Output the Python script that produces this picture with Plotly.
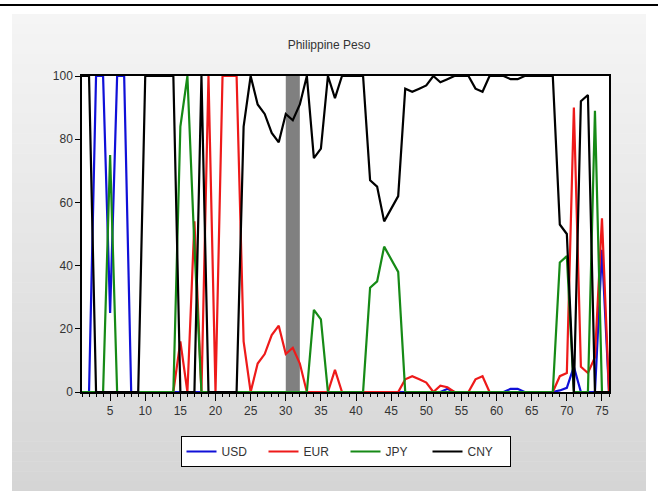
import plotly.graph_objects as go

# Observation index
obs = list(range(1, 77))

# Currency weights (%) per observation
usd = [0, 0, 100, 100, 25, 100, 100, 0, 0, 0,
       0, 0, 0, 0, 0, 0, 0, 0, 0, 0,
       0, 0, 0, 0, 0, 0, 0, 0, 0, 0,
       0, 0, 0, 0, 0, 0, 0, 0, 0, 0,
       0, 0, 0, 0, 0, 0, 0, 0, 0, 0,
       0, 0, 1, 0, 0, 0, 0, 0, 0, 0,
       0, 1, 1, 0, 0, 0, 0, 0, 0.5, 1.3,
       8, 0, 0, 0, 45, 0]

eur = [0, 0, 0, 0, 0, 0, 0, 0, 0, 0,
       0, 0, 0, 0, 16, 0, 54, 0, 100, 0,
       100, 100, 100, 16, 0, 9, 12, 18, 21, 12,
       14, 9, 0, 0, 0, 0, 7, 0, 0, 0,
       0, 0, 0, 0, 0, 0, 4, 5, 4, 3,
       0, 2, 1.5, 0, 0, 0, 4, 5, 0, 0,
       0, 0, 0, 0, 0, 0, 0, 0, 5, 6,
       90, 8, 6, 11, 55, 0]

jpy = [0, 0, 0, 0, 75, 0, 0, 0, 0, 0,
       0, 0, 0, 0, 84, 100, 46, 0, 0, 0,
       0, 0, 0, 0, 0, 0, 0, 0, 0, 0,
       0, 0, 0, 26, 23, 0, 0, 0, 0, 0,
       0, 33, 35, 46, 42, 38, 0, 0, 0, 0,
       0, 0, 0, 0, 0, 0, 0, 0, 0, 0,
       0, 0, 0, 0, 0, 0, 0, 0, 41, 43,
       0, 0, 0, 89, 0, 0]

cny = [100, 100, 0, 0, 0, 0, 0, 0, 0, 100,
       100, 100, 100, 100, 0, 0, 0, 100, 0, 0,
       0, 0, 0, 84, 100, 91, 88, 82, 79, 88,
       86, 91, 100, 74, 77, 100, 93, 100, 100, 100,
       100, 67, 65, 54, 58, 62, 96, 95, 96, 97,
       100, 98, 99, 100, 100, 100, 96, 95, 100, 100,
       100, 99, 99, 100, 100, 100, 100, 100, 53, 50,
       0, 92, 94, 0, 0, 0]

series = [("USD", usd, "#1010d8"),
          ("EUR", eur, "#ee1a1a"),
          ("JPY", jpy, "#168a16"),
          ("CNY", cny, "#000000")]

# Shaded period
band = (30, 32)

# Figure geometry in pixels
W, H = 658, 491
L, R, T, B = 82, 609, 76, 392


def px_x(p):
    return (p - L) / (R - L)


def px_y(p):
    return (B - p) / (B - T)


fig = go.Figure()
for name, vals, col in series:
    fig.add_trace(go.Scatter(x=obs, y=vals, mode="lines", name=name,
                             line=dict(color=col, width=2.2)))

shapes = []
# top rule across the page
shapes.append(dict(type="line", xref="paper", yref="paper",
                   x0=px_x(0), x1=px_x(W), y0=px_y(5), y1=px_y(5),
                   line=dict(color="black", width=2), layer="below"))
# grey panel with a vertical gradient
top, bot, left, right = 14, H, 12, 646
n = 48
for i in range(n):
    y0 = top + (bot - top) * i / n
    y1 = top + (bot - top) * (i + 1) / n
    g = int(round(245 - (245 - 213) * (i + 0.5) / n))
    shapes.append(dict(type="rect", xref="paper", yref="paper",
                       x0=px_x(left), x1=px_x(right),
                       y0=px_y(y0), y1=px_y(y1 + 0.5),
                       line=dict(width=0),
                       fillcolor=f"rgb({g},{g},{g})", layer="below"))
# white plotting area
shapes.append(dict(type="rect", xref="paper", yref="paper",
                   x0=0, x1=1, y0=0, y1=1, line=dict(width=0),
                   fillcolor="white", layer="below"))
# shaded band
shapes.append(dict(type="rect", xref="x", yref="paper",
                   x0=band[0], x1=band[1], y0=0, y1=1,
                   line=dict(width=0), fillcolor="#808080", layer="below"))

fig.update_layout(
    width=W, height=H,
    margin=dict(l=L, r=W - R, t=T, b=H - B),
    paper_bgcolor="white", plot_bgcolor="white",
    font=dict(family="Liberation Sans, Arial, sans-serif", size=12, color="#333333"),
    title=dict(text="Philippine Peso", x=0.5, xref="container", xanchor="center",
               y=1 - 45 / H, yref="container", yanchor="middle",
               font=dict(size=12, color="#333333")),
    showlegend=True,
    legend=dict(orientation="h", x=0.5, xanchor="center",
                y=px_y(436), yanchor="top",
                bgcolor="white", bordercolor="black", borderwidth=1,
                font=dict(size=12, color="#333333"),
                entrywidth=37, entrywidthmode="pixels",
                traceorder="normal"),
    shapes=shapes,
)

fig.update_xaxes(range=[1, 76], tickmode="linear", tick0=5, dtick=5,
                 ticks="outside", ticklen=7, tickcolor="black", tickwidth=1,
                 minor=dict(dtick=1, tick0=1, ticks="outside", ticklen=3,
                            tickcolor="black", tickwidth=1),
                 showline=True, linecolor="black", linewidth=1.5, mirror=True,
                 showgrid=False, zeroline=False)
fig.update_yaxes(range=[0, 100], tickmode="linear", tick0=0, dtick=20,
                 ticks="outside", ticklen=5, tickcolor="black", tickwidth=1,
                 showline=True, linecolor="black", linewidth=1.5, mirror=True,
                 showgrid=False, zeroline=False)

fig.write_html("out.html")
